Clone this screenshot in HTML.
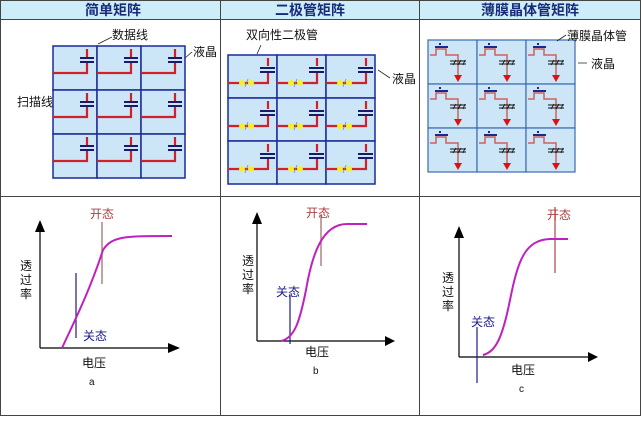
<!DOCTYPE html>
<html><head><meta charset="utf-8"><style>
html,body{margin:0;padding:0;background:#fff;}
svg{display:block;font-family:"Liberation Sans","Noto Sans CJK SC",sans-serif;}
</style></head><body>
<svg width="642" height="421" viewBox="0 0 642 421" xmlns="http://www.w3.org/2000/svg">
<defs>
<g id="c1">
<rect x="0" y="0" width="44" height="44" fill="#cce6f8" stroke="#1a2a9a" stroke-width="1.5"/>
<path d="M34,3 V11 M34,17 V27 H0" stroke="#d0202a" stroke-width="2.2" fill="none"/>
<path d="M27,12 H41 M27,16 H41" stroke="#1a1a6a" stroke-width="2"/>
</g>
<g id="c2">
<rect x="0" y="0" width="49" height="43" fill="#cce6f8" stroke="#1a2a9a" stroke-width="1.5"/>
<path d="M40,3 V11 M40,17 V28 H0" stroke="#d0202a" stroke-width="2.2" fill="none"/>
<path d="M32,13 H47 M32,17 H47" stroke="#1a1a6a" stroke-width="2"/>
<circle cx="14" cy="28" r="3" fill="#f4f030"/><circle cx="23" cy="28" r="3" fill="#f4f030"/>
<path d="M17,32 L20,24" stroke="#888" stroke-width="0.8"/>
</g>
<g id="c3">
<rect x="0" y="0" width="49" height="44" fill="#cce6f8" stroke="#3a6ab0" stroke-width="1.2"/>
<path d="M2,15 H8 V9 H18 V15 H30 V38" stroke="#d06060" stroke-width="1.5" fill="none"/>
<path d="M7,7 H20 M12,3 V5" stroke="#1a2a8a" stroke-width="2"/>
<path d="M22,21 H38 M22,24 H38 M25,25 L28,20 M30,25 L33,20 M35,25 L37,20" stroke="#111" stroke-width="0.9"/>
<path d="M26,35 H34 L30,42 Z" fill="#e01010"/>
</g>
</defs>
<!-- table -->
<rect x="1" y="1" width="640" height="18" fill="#cdeef8"/>
<g stroke="#444" stroke-width="1" fill="none">
<rect x="0.5" y="0.5" width="640" height="415"/>
<line x1="0" y1="19.5" x2="641" y2="19.5"/>
<line x1="0" y1="196.5" x2="641" y2="196.5"/>
<line x1="220.5" y1="0" x2="220.5" y2="416"/>
<line x1="419.5" y1="0" x2="419.5" y2="416"/>
</g>
<g font-weight="bold" font-size="14" fill="#1a2a7a" text-anchor="middle">
<text x="113" y="15">简单矩阵</text><text x="310" y="15">二极管矩阵</text><text x="530" y="15">薄膜晶体管矩阵</text>
</g>
<!-- panel 1 -->
<g transform="translate(53,46)">
<use href="#c1" x="0" y="0"/><use href="#c1" x="44" y="0"/><use href="#c1" x="88" y="0"/>
<use href="#c1" x="0" y="44"/><use href="#c1" x="44" y="44"/><use href="#c1" x="88" y="44"/>
<use href="#c1" x="0" y="88"/><use href="#c1" x="44" y="88"/><use href="#c1" x="88" y="88"/>
</g>
<g font-size="12" fill="#111">
<text x="112" y="39">数据线</text><text x="193" y="56">液晶</text><text x="17" y="106">扫描线</text>
</g>
<path d="M98,44 L112,37 M185,58 L192,52" stroke="#222" stroke-width="0.8"/>
<!-- panel 2 -->
<g transform="translate(228,55)">
<use href="#c2" x="0" y="0"/><use href="#c2" x="49" y="0"/><use href="#c2" x="98" y="0"/>
<use href="#c2" x="0" y="43"/><use href="#c2" x="49" y="43"/><use href="#c2" x="98" y="43"/>
<use href="#c2" x="0" y="86"/><use href="#c2" x="49" y="86"/><use href="#c2" x="98" y="86"/>
</g>
<g font-size="12" fill="#111">
<text x="246" y="39">双向性二极管</text><text x="392" y="83">液晶</text>
</g>
<path d="M257,54 L261,45 M378,70 L390,78" stroke="#222" stroke-width="0.8"/>
<!-- panel 3 -->
<g transform="translate(428,40)">
<use href="#c3" x="0" y="0"/><use href="#c3" x="49" y="0"/><use href="#c3" x="98" y="0"/>
<use href="#c3" x="0" y="44"/><use href="#c3" x="49" y="44"/><use href="#c3" x="98" y="44"/>
<use href="#c3" x="0" y="88"/><use href="#c3" x="49" y="88"/><use href="#c3" x="98" y="88"/>
</g>
<g font-size="12" fill="#111">
<text x="567" y="40">薄膜晶体管</text><text x="591" y="68">液晶</text>
</g>
<path d="M557,41 L566,35 M578,63 L587,63" stroke="#222" stroke-width="0.8"/>
<!-- graph a -->
<g stroke="#000" stroke-width="1.2" fill="none"><path d="M40,348 V230 M40,348 H170"/></g>
<path d="M35,232 L40,220 L45,232 Z M168,343 L180,348 L168,353 Z"/>
<line x1="102" y1="222" x2="102" y2="284" stroke="#a07070" stroke-width="1.3"/>
<line x1="76" y1="273" x2="76" y2="338" stroke="#1a1a8a" stroke-width="1.2"/>
<path d="M62,348 C75,320 90,290 103,250 C112,236 125,236 172,236" stroke="#c020c0" stroke-width="2" fill="none"/>
<text x="90" y="218" font-size="12" fill="#b04040">开态</text>
<text x="83" y="340" font-size="12" fill="#1a1a8a">关态</text>
<text x="82" y="367" font-size="12" fill="#111">电压</text>
<text x="89" y="385" font-size="10" fill="#111">a</text>
<g font-size="12" fill="#111"><text x="20" y="270">透</text><text x="20" y="284">过</text><text x="20" y="298">率</text></g>
<!-- graph b -->
<g stroke="#000" stroke-width="1.2" fill="none"><path d="M257,341 V222 M257,341 H385"/></g>
<path d="M252,224 L257,212 L262,224 Z M385,336 L395,341 L385,346 Z"/>
<line x1="321" y1="215" x2="321" y2="266" stroke="#a07070" stroke-width="1.3"/>
<line x1="290" y1="295" x2="290" y2="344" stroke="#1a1a8a" stroke-width="1.2"/>
<path d="M281,341 C295,338 300,320 306,290 C312,255 322,224 347,224 L367,224" stroke="#c020c0" stroke-width="2" fill="none"/>
<text x="306" y="217" font-size="12" fill="#b04040">开态</text>
<text x="276" y="296" font-size="12" fill="#1a1a8a">关态</text>
<text x="305" y="356" font-size="12" fill="#111">电压</text>
<text x="313" y="374" font-size="10" fill="#111">b</text>
<g font-size="12" fill="#111"><text x="242" y="265">透</text><text x="242" y="279">过</text><text x="242" y="293">率</text></g>
<!-- graph c -->
<g stroke="#000" stroke-width="1.2" fill="none"><path d="M459,357 V236 M459,357 H588"/></g>
<path d="M454,238 L459,226 L464,238 Z M588,352 L598,357 L588,362 Z"/>
<line x1="555" y1="207" x2="555" y2="273" stroke="#b05050" stroke-width="1.3"/>
<line x1="477" y1="327" x2="477" y2="383" stroke="#1a1a8a" stroke-width="1.2"/>
<path d="M483,355 C495,352 502,340 510,300 C518,260 525,240 550,239 L568,239" stroke="#c020c0" stroke-width="2" fill="none"/>
<text x="547" y="219" font-size="12" fill="#b04040">开态</text>
<text x="471" y="326" font-size="12" fill="#1a1a8a">关态</text>
<text x="511" y="374" font-size="12" fill="#111">电压</text>
<text x="519" y="392" font-size="10" fill="#111">c</text>
<g font-size="12" fill="#111"><text x="442" y="282">透</text><text x="442" y="296">过</text><text x="442" y="310">率</text></g>
</svg>
</body></html>
